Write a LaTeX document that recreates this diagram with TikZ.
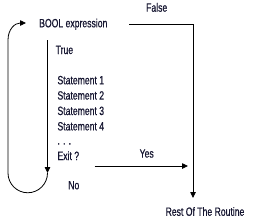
\documentclass[tikz,border=0pt]{standalone}
\usepackage{fontspec}
\setmainfont[FakeStretch=0.72,FakeBold=0.6]{Liberation Sans}
\usetikzlibrary{arrows.meta}
\definecolor{txt}{HTML}{151530}
\begin{document}
\begin{tikzpicture}[x=1pt,y=-1pt,
  lbl/.style={anchor=base west,inner sep=0pt,text=txt,font=\fontsize{12}{13}\selectfont},
  clbl/.style={anchor=base,inner sep=0pt,text=txt,font=\fontsize{12}{13}\selectfont},
  conn/.style={line width=0.8pt,draw=black},
  tip/.style={-{Triangle[length=6pt,width=5.5pt]}}]
\useasboundingbox (0,0) rectangle (253,223);
\node[lbl] (bool) at (39,27.3) {BOOL expression};
\node[clbl] (false) at (156.7,11.7) {False};
\node[lbl] (true) at (55.5,54) {True};
\node[lbl] (s1) at (57.3,84.3) {Statement 1};
\node[lbl] (s2) at (57.3,99.6) {Statement 2};
\node[lbl] (s3) at (57.3,115) {Statement 3};
\node[lbl] (s4) at (57.3,130.4) {Statement 4};
\node[lbl] (dots) at (57.3,144.5) {. . .};
\node[lbl] (exit) at (57.3,160) {Exit ?};
\node[clbl] (yes) at (146.7,157.6) {Yes};
\node[clbl] (no) at (73.8,189.3) {No};
\node[clbl] (rest) at (205,215.8) {Rest Of The Routine};
\coordinate (fs) at (129,24.5);
\coordinate (fc) at (193,24.5);
\coordinate (fe) at (193,198);
\coordinate (ls) at (47.5,40);
\coordinate (le) at (47.5,173);
\coordinate (ys) at (94.5,166);
\coordinate (ye) at (188,166);
\coordinate (lb) at (8,40);
\coordinate (la) at (26,23);
\draw[conn,tip] (fs) -- (fc) -- (fe);
\draw[conn,tip] (ls) -- (le);
\draw[conn,tip] (ys) -- (ye);
\draw[conn,tip] (le) arc[start angle=0,end angle=180,radius=19.75] -- (lb) .. controls (8,29) and (15,23) .. (la);
\end{tikzpicture}
\end{document}
